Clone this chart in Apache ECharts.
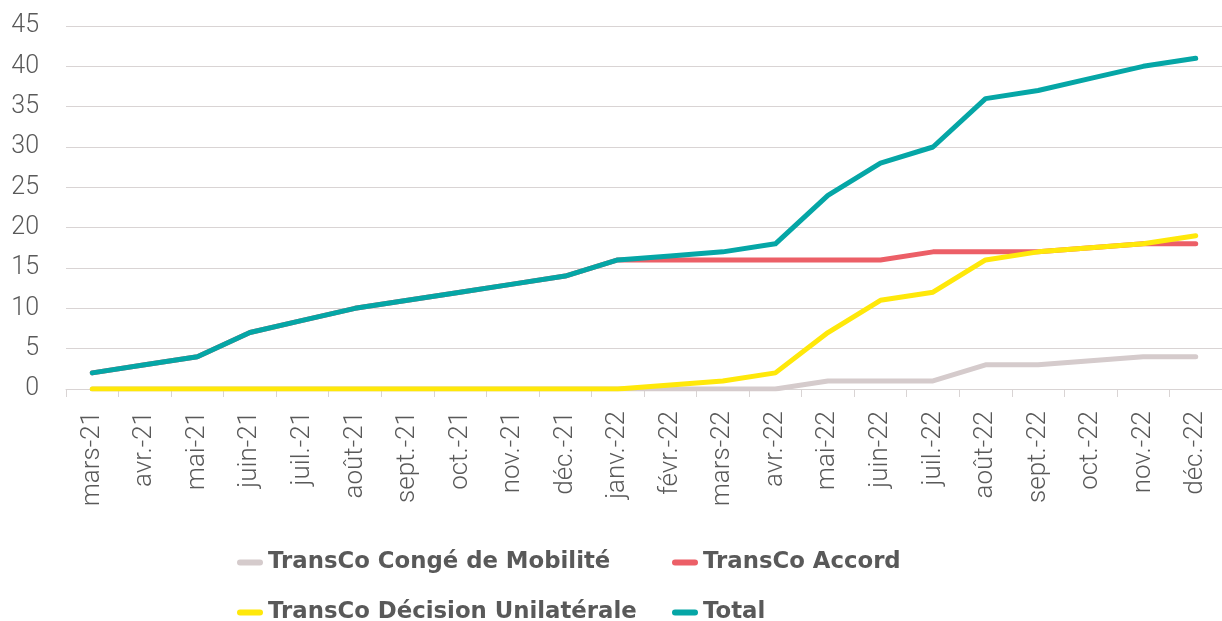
<!DOCTYPE html>
<html>
<head>
<meta charset="utf-8">
<script src="https://cdn.jsdelivr.net/npm/echarts@6/dist/echarts.min.js"></script>
<style>
  html, body { margin: 0; padding: 0; background: #fff; overflow: hidden; }
  #chart { width: 1222px; height: 621px; }
</style>
</head>
<body>
<div id="chart"></div>
<script>
// mois (axe X)
var months = ['mars-21', 'avr.-21', 'mai-21', 'juin-21', 'juil.-21', 'août-21', 'sept.-21', 'oct.-21',
  'nov.-21', 'déc.-21', 'janv.-22', 'févr.-22', 'mars-22', 'avr.-22', 'mai-22', 'juin-22',
  'juil.-22', 'août-22', 'sept.-22', 'oct.-22', 'nov.-22', 'déc.-22'];

// séries cumulées
var congeMobilite = [0, 0, 0, 0, 0, 0, 0, 0, 0, 0, 0, 0, 0, 0, 1, 1, 1, 3, 3, 3.5, 4, 4];
var accord = [2, 3, 4, 7, 8.5, 10, 11, 12, 13, 14, 16, 16, 16, 16, 16, 16, 17, 17, 17, 17.5, 18, 18];
var decisionUnilaterale = [0, 0, 0, 0, 0, 0, 0, 0, 0, 0, 0, 0.5, 1, 2, 7, 11, 12, 16, 17, 17.5, 18, 19];
var total = [2, 3, 4, 7, 8.5, 10, 11, 12, 13, 14, 16, 16.5, 17, 18, 24, 28, 30, 36, 37, 38.5, 40, 41];

var names = ['TransCo Congé de Mobilité', 'TransCo Accord', 'TransCo Décision Unilatérale', 'Total'];
var colors = ['#D5CBCC', '#EC5F67', '#FFE80A', '#05A6A6'];
var values = [congeMobilite, accord, decisionUnilaterale, total];

var textColor = '#595959';
var capsule = 'path://M3,0 H23 A3,3 0 0 1 23,6 H3 A3,3 0 0 1 3,0 Z';

// une légende par entrée pour garder les deux colonnes alignées
function legendAt(name, left, top) {
  return {
    data: [name],
    left: left,
    top: top,
    icon: capsule,
    itemWidth: 26,
    itemHeight: 6,
    itemGap: 0,
    padding: 0,
    textStyle: {
      color: textColor,
      fontFamily: 'DejaVu Sans',
      fontWeight: 'bold',
      fontSize: 22.8
    }
  };
}

var chart = echarts.init(document.getElementById('chart'));

chart.setOption({
  animation: false,
  color: colors,
  grid: { left: 66, right: -8, top: 26, bottom: 232 },
  legend: [
    legendAt(names[0], 237, 551),
    legendAt(names[1], 672, 551),
    legendAt(names[2], 237, 601),
    legendAt(names[3], 672, 601)
  ],
  xAxis: {
    type: 'category',
    data: months,
    boundaryGap: true,
    axisLine: { lineStyle: { color: '#D9D4D4', width: 1 } },
    axisTick: { show: true, length: 8, lineStyle: { color: '#D9D4D4' } },
    axisLabel: {
      rotate: 90,
      interval: 0,
      margin: 22,
      color: textColor,
      fontFamily: 'Roboto',
      fontWeight: 300,
      fontSize: 26
    }
  },
  yAxis: {
    type: 'value',
    min: 0,
    max: 45,
    interval: 5,
    axisLine: { show: false },
    axisTick: { show: false },
    splitLine: { lineStyle: { color: '#D9D4D4', width: 1 } },
    axisLabel: {
      margin: 27,
      color: textColor,
      fontFamily: 'Roboto',
      fontWeight: 300,
      fontSize: 25
    }
  },
  series: names.map(function (name, i) {
    return {
      name: name,
      type: 'line',
      data: values[i],
      symbol: 'none',
      lineStyle: { width: 5, color: colors[i], cap: 'round', join: 'round' }
    };
  })
});
</script>
</body>
</html>
